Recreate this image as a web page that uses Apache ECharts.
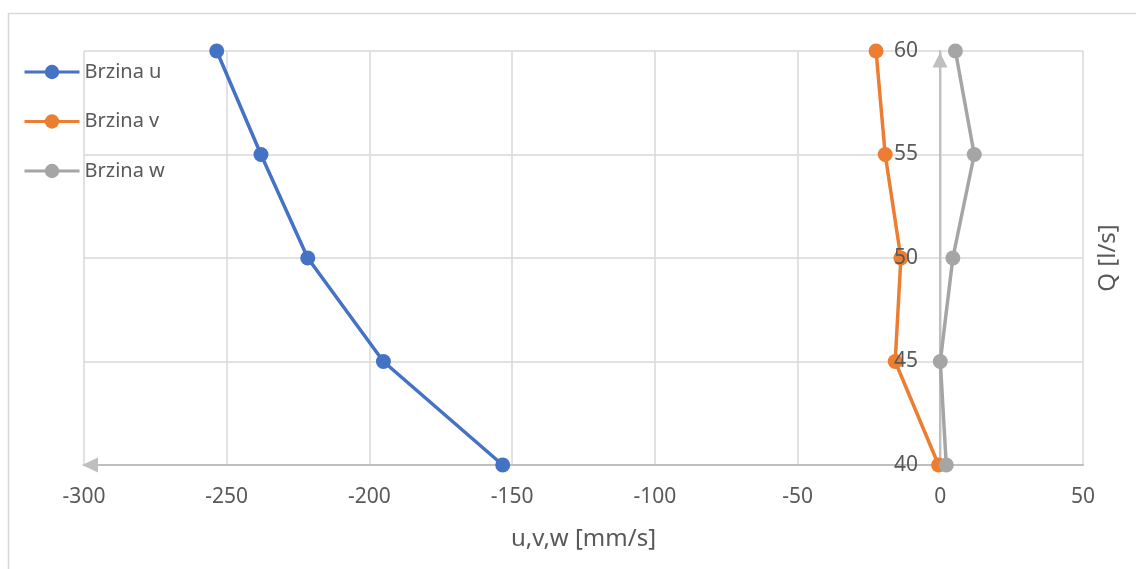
<!DOCTYPE html>
<html>
<head>
<meta charset="utf-8">
<script src="https://cdn.jsdelivr.net/npm/echarts@6/dist/echarts.min.js"></script>
<style>
  html, body { margin: 0; padding: 0; background: #fff; }
  #chart { width: 1136px; height: 569px; }
</style>
</head>
<body>
<div id="chart"></div>
<script>
// Q [l/s] for each measurement
const flows = [60, 55, 50, 45, 40];
// velocities [mm/s]
const brzinaU = [-253.5, -238, -221.6, -195.1, -153.3];
const brzinaV = [-22.5, -19.3, -13.8, -15.8, -0.6];
const brzinaW = [5.3, 11.9, 4.4, 0, 2.1];

const textColor = '#595959';
const fontFamily = '"Noto Sans", "Open Sans", sans-serif';

const pairs = (vals) => vals.map((v, i) => [v, flows[i]]);

const makeSeries = (name, vals, color) => ({
  name: name,
  type: 'line',
  data: pairs(vals),
  symbol: 'circle',
  symbolSize: 15,
  lineStyle: { color: color, width: 3.5 },
  itemStyle: { color: color },
  animation: false
});

const chart = echarts.init(document.getElementById('chart'));

const yBase = { type: 'value', min: 40, max: 60, interval: 5 };

const option = {
  backgroundColor: '#fff',
  textStyle: { fontFamily: fontFamily },
  graphic: [{
    type: 'rect',
    shape: { x: 8.5, y: 13.5, width: 1300, height: 700 },
    style: { fill: 'none', stroke: '#d9d9d9', lineWidth: 1.5 },
    silent: true
  }],
  grid: { left: 84, right: 53, top: 51, bottom: 104 },
  legend: {
    orient: 'vertical',
    left: 23,
    top: 62,
    padding: 0,
    itemWidth: 55,
    itemHeight: 18,
    itemGap: 29.5,
    lineStyle: { width: 3 },
    textStyle: { color: textColor, fontSize: 20, fontFamily: fontFamily },
    data: ['Brzina u', 'Brzina v', 'Brzina w']
  },
  xAxis: {
    type: 'value',
    min: -300,
    max: 50,
    interval: 50,
    name: 'u,v,w [mm/s]',
    nameLocation: 'middle',
    nameGap: 62,
    nameTextStyle: { color: textColor, fontSize: 24, fontFamily: fontFamily },
    axisLine: {
      show: true,
      lineStyle: { color: '#bfbfbf', width: 2 },
      symbol: ['triangle', 'none'],
      symbolSize: [15, 16],
      symbolOffset: [6, 0]
    },
    axisTick: { show: false },
    axisLabel: { color: textColor, fontSize: 21, margin: 22, fontFamily: fontFamily },
    splitLine: { show: true, lineStyle: { color: '#d9d9d9', width: 1.5 } }
  },
  yAxis: [Object.assign({}, yBase, {
    position: 'left',
    offset: -856,
    axisLine: {
      show: true,
      onZero: false,
      lineStyle: { color: '#bfbfbf', width: 2 },
      symbol: ['none', 'triangle'],
      symbolSize: [15, 15],
      symbolOffset: [0, -9]
    },
    axisTick: { show: false },
    axisLabel: { show: false },
    splitLine: { show: true, lineStyle: { color: '#d9d9d9', width: 1.5 } }
  }), Object.assign({}, yBase, {
    position: 'right',
    name: 'Q [l/s]',
    nameLocation: 'middle',
    nameGap: 13,
    nameTextStyle: { color: textColor, fontSize: 24, fontFamily: fontFamily },
    axisLine: { show: false, onZero: false },
    axisTick: { show: false },
    axisLabel: { show: false },
    splitLine: { show: false }
  }), Object.assign({}, yBase, {
    // tick labels drawn above the lines, as in the original
    position: 'left',
    offset: -856,
    z: 10,
    axisLine: { show: false, onZero: false },
    axisTick: { show: false },
    axisLabel: { color: textColor, fontSize: 21, margin: 22, fontFamily: fontFamily },
    splitLine: { show: false }
  })],
  series: [
    makeSeries('Brzina u', brzinaU, '#4472c4'),
    makeSeries('Brzina v', brzinaV, '#ed7d31'),
    makeSeries('Brzina w', brzinaW, '#a5a5a5')
  ]
};

chart.setOption(option);
</script>
</body>
</html>
